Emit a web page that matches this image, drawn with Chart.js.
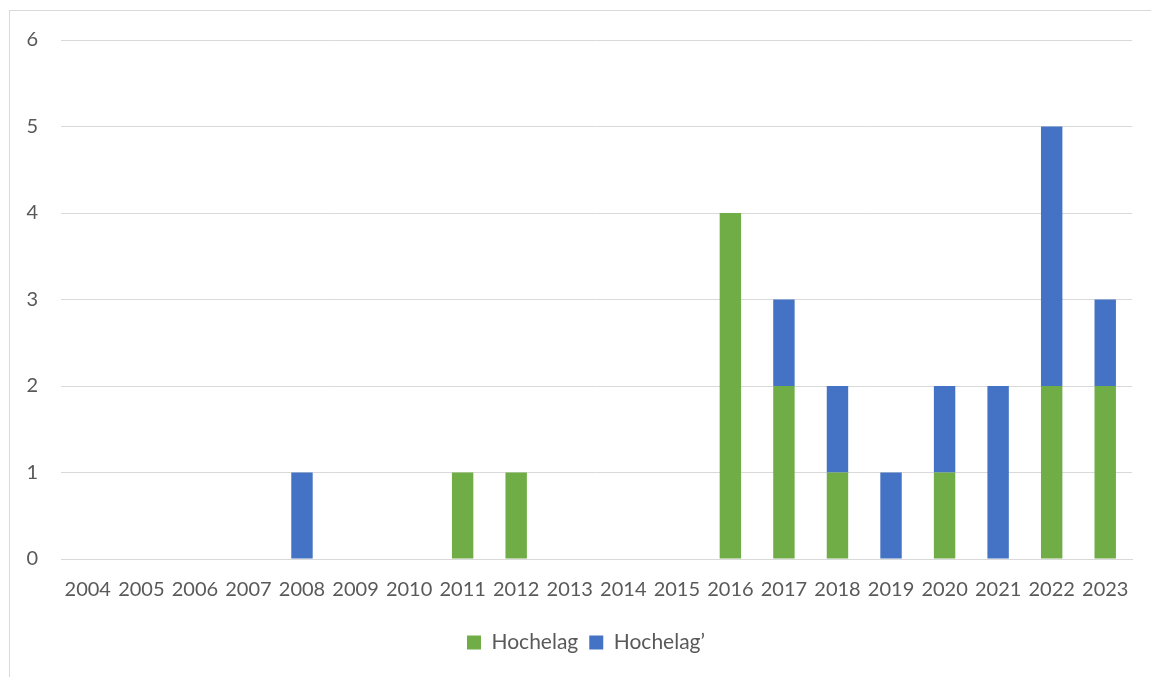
<!DOCTYPE html>
<html>
<head>
<meta charset="utf-8">
<script src="https://cdn.jsdelivr.net/npm/chart.js@4/dist/chart.umd.min.js"></script>
<style>
  html, body { margin: 0; padding: 0; background: #ffffff; overflow: hidden; }
  #wrap { position: relative; width: 1151px; height: 677px; }
  #frame { position: absolute; left: 9px; top: 10px; width: 1200px; height: 720px; border: 1px solid #d9d9d9; box-sizing: border-box; }
  #c { position: absolute; left: 0; top: 0; }
</style>
</head>
<body>
<div id="wrap">
  <div id="frame"></div>
  <canvas id="c" width="1151" height="677"></canvas>
</div>
<script>
const categories = ["2004","2005","2006","2007","2008","2009","2010","2011","2012","2013","2014","2015","2016","2017","2018","2019","2020","2021","2022","2023"];
const seriesNames = ["Hochelag", "Hochelag\u2019"];
const hochelag      = [0,0,0,0,0,0,0,1,1,0,0,0,4,2,1,0,1,0,2,2];
const hochelagPrime = [0,0,0,0,1,0,0,0,0,0,0,0,0,1,1,1,1,2,3,1];
const yTicks = [0,1,2,3,4,5,6];

const FONT = "Lato, 'Open Sans', 'Liberation Sans', sans-serif";
const TEXT = "#595959";
const GRID = "#d9d9d9";

const legendShift = {
  id: "legendShift",
  afterLayout(chart) {
    if (chart.legend) { chart.legend.left += 20; chart.legend.right += 20; }
  }
};

new Chart(document.getElementById("c"), {
  type: "bar",
  data: {
    labels: categories,
    datasets: [
      { label: seriesNames[0], data: hochelag, backgroundColor: "#70AD47", borderWidth: 0, categoryPercentage: 1, barPercentage: 0.4 },
      { label: seriesNames[1], data: hochelagPrime, backgroundColor: "#4472C4", borderWidth: 0, categoryPercentage: 1, barPercentage: 0.4 }
    ]
  },
  plugins: [legendShift],
  options: {
    responsive: false,
    animation: false,
    devicePixelRatio: 1,
    layout: { padding: { left: 0, right: 19, top: 40, bottom: 14 } },
    plugins: {
      tooltip: { enabled: false },
      legend: {
        position: "bottom",
        labels: {
          boxWidth: 14, boxHeight: 14, padding: 11,
          color: TEXT,
          font: { family: FONT, size: 21 }
        }
      }
    },
    scales: {
      x: {
        stacked: true,
        grid: { display: false, drawTicks: false },
        border: { display: true, color: GRID, width: 1 },
        ticks: { color: TEXT, font: { family: FONT, size: 20 }, padding: 19, maxRotation: 0, autoSkip: false }
      },
      y: {
        stacked: true,
        min: 0, max: 6,
        afterFit: (axis) => { axis.width = 61; },
        afterBuildTicks: (axis) => { axis.ticks = yTicks.map(v => ({ value: v })); },
        grid: { color: GRID, lineWidth: 1, drawTicks: false },
        border: { display: false },
        ticks: { color: TEXT, font: { family: FONT, size: 20 }, padding: 23 }
      }
    }
  }
});
</script>
</body>
</html>
